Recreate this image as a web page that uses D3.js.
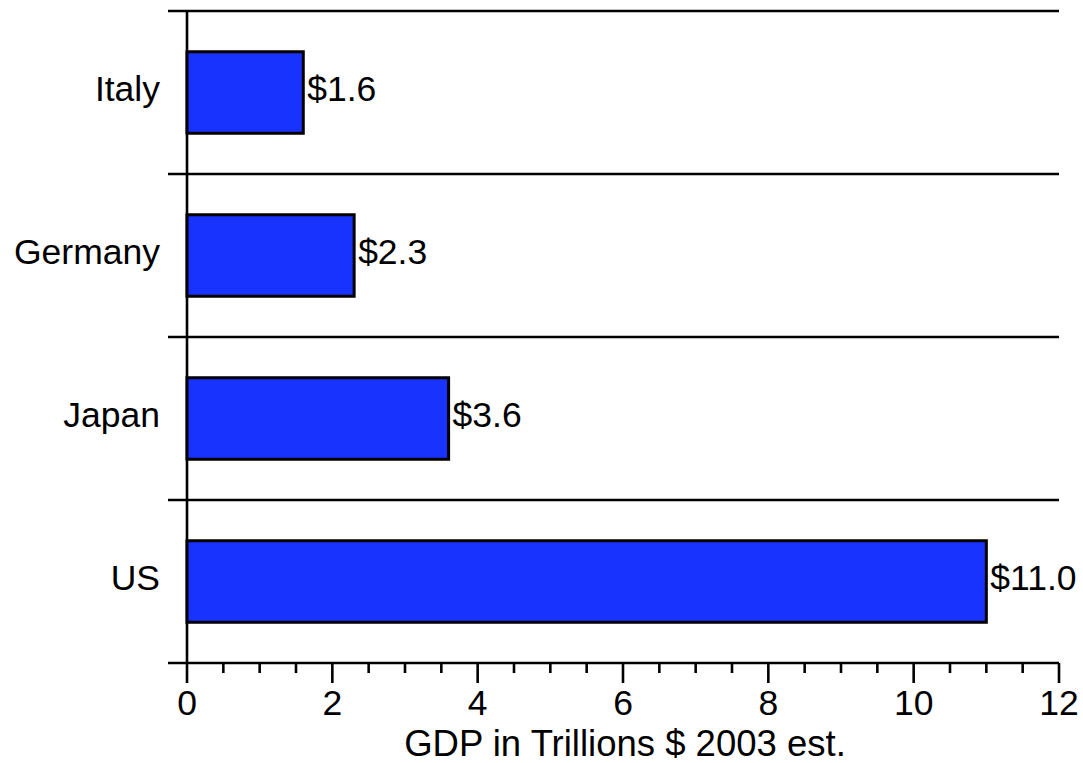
<!DOCTYPE html>
<html>
<head>
<meta charset="utf-8">
<script src="https://cdn.jsdelivr.net/npm/d3@7"></script>
<style>
  html, body { margin: 0; padding: 0; background: #fff; }
  svg text { font-family: "Liberation Sans", Arial, sans-serif; fill: #000; }
</style>
</head>
<body>
<svg id="chart" width="1083" height="763"></svg>
<script>
// GDP by country, trillions of US dollars (2003 estimates)
const countries = ["Italy", "Germany", "Japan", "US"];
const gdp = [1.6, 2.3, 3.6, 11.0];
const xTicks = [0, 2, 4, 6, 8, 10, 12];
const xTitle = "GDP in Trillions $ 2003 est.";

const svg = d3.select("#chart");
const margin = { left: 187, right: 24, top: 11, bottom: 100 };
const W = 1083, H = 763;
const plotBottom = H - margin.bottom; // 663
const fontSize = 35.5;
const lineW = 2.6;

const x = d3.scaleLinear().domain([0, 12]).range([margin.left, W - margin.right]);
const y = d3.scaleBand().domain(countries).range([margin.top, plotBottom]).paddingInner(0.5).paddingOuter(0.25);
const bandEdges = d3.range(countries.length + 1).map(i => margin.top + i * (plotBottom - margin.top) / countries.length);

// category separators (extend left as ticks)
svg.append("g").selectAll("line").data(bandEdges).join("line")
  .attr("x1", margin.left - 19).attr("x2", x(12))
  .attr("y1", d => d).attr("y2", d => d)
  .attr("stroke", "#000").attr("stroke-width", lineW);

// vertical axis line
svg.append("line")
  .attr("x1", x(0)).attr("x2", x(0))
  .attr("y1", margin.top).attr("y2", plotBottom)
  .attr("stroke", "#000").attr("stroke-width", lineW);

// bars
svg.append("g").selectAll("rect").data(countries).join("rect")
  .attr("x", x(0))
  .attr("y", d => y(d))
  .attr("width", (d, i) => x(gdp[i]) - x(0))
  .attr("height", y.bandwidth())
  .attr("fill", "#1933ff")
  .attr("stroke", "#000").attr("stroke-width", 3);

// value labels
svg.append("g").selectAll("text").data(countries).join("text")
  .attr("x", (d, i) => x(gdp[i]) + 4)
  .attr("y", d => y(d) + y.bandwidth() / 2)
  .attr("dy", "0.25em")
  .attr("font-size", fontSize)
  .text((d, i) => "$" + gdp[i].toFixed(1));

// category labels
svg.append("g").selectAll("text").data(countries).join("text")
  .attr("x", 160)
  .attr("y", d => y(d) + y.bandwidth() / 2)
  .attr("dy", "0.25em")
  .attr("text-anchor", "end")
  .attr("font-size", fontSize)
  .text(d => d);

// x axis with minor ticks every 0.5
const minor = d3.range(0, 12.001, 0.5).filter(v => v % 2 !== 0);
const axisG = svg.append("g");
axisG.selectAll("line.minor").data(minor).join("line")
  .attr("class", "minor")
  .attr("x1", d => x(d)).attr("x2", d => x(d))
  .attr("y1", plotBottom).attr("y2", plotBottom + 10)
  .attr("stroke", "#000").attr("stroke-width", lineW);
axisG.selectAll("line.major").data(xTicks).join("line")
  .attr("class", "major")
  .attr("x1", d => x(d)).attr("x2", d => x(d))
  .attr("y1", plotBottom).attr("y2", plotBottom + 20)
  .attr("stroke", "#000").attr("stroke-width", lineW);
axisG.selectAll("text").data(xTicks).join("text")
  .attr("x", d => x(d))
  .attr("y", 715)
  .attr("text-anchor", "middle")
  .attr("font-size", fontSize)
  .text(d => d);

svg.append("text")
  .attr("x", (x(0) + x(12)) / 2 + 2)
  .attr("y", 756)
  .attr("text-anchor", "middle")
  .attr("font-size", 36.5)
  .text(xTitle);
</script>
</body>
</html>
